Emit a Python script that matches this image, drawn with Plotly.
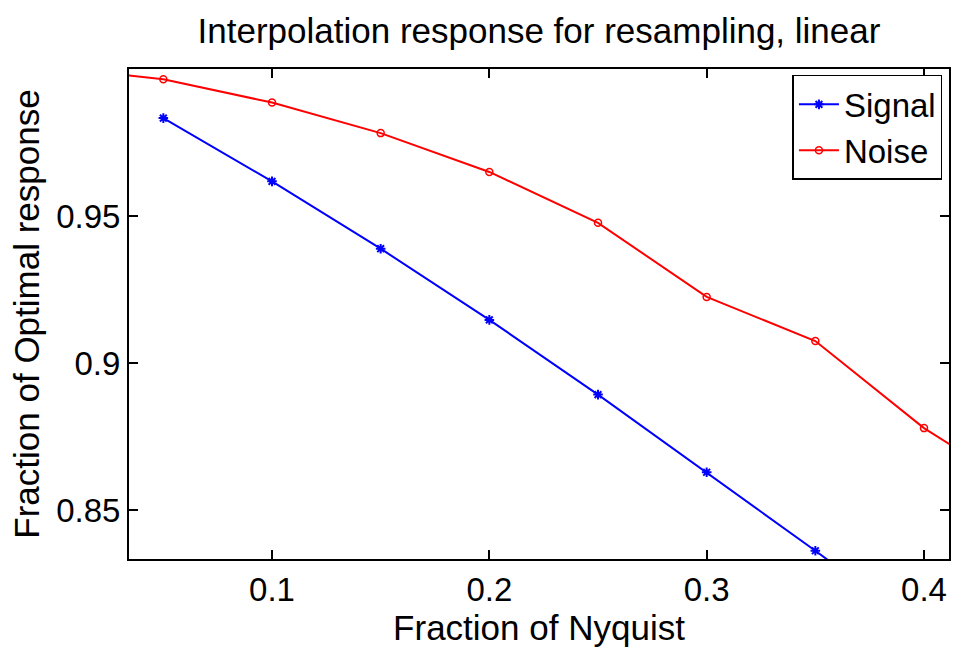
import plotly.graph_objects as go

signal_x = [0.05, 0.10, 0.15, 0.20, 0.25, 0.30, 0.35, 0.40]
signal_y = [0.9833, 0.9618, 0.9389, 0.9147, 0.8893, 0.8629, 0.8362, 0.8090]
noise_x = [0.00, 0.05, 0.10, 0.15, 0.20, 0.25, 0.30, 0.35, 0.40, 0.45]
noise_y = [1.0005, 0.9965, 0.9886, 0.9782, 0.9650, 0.9477, 0.9225, 0.9075, 0.8779, 0.8547]
x_ticks = [0.1, 0.2, 0.3, 0.4]
x_ticklabels = ["0.1", "0.2", "0.3", "0.4"]
y_ticks = [0.85, 0.90, 0.95]
y_ticklabels = ["0.85", "0.9", "0.95"]

FONT = "Liberation Sans, Arial, Helvetica, sans-serif"

fig = go.Figure()
fig.add_trace(go.Scatter(
    x=signal_x, y=signal_y, name="Signal", mode="lines+markers",
    line=dict(color="#0000ff", width=2),
    marker=dict(symbol="asterisk-open", size=8, color="#0000ff", line=dict(color="#0000ff", width=2)),
))
fig.add_trace(go.Scatter(
    x=noise_x, y=noise_y, name="Noise", mode="lines+markers",
    line=dict(color="#ff0000", width=2),
    marker=dict(symbol="circle-open", size=7, color="#ff0000", line=dict(color="#ff0000", width=1.5)),
))

axis_common = dict(
    showline=True, linecolor="black", linewidth=2, mirror="ticks",
    ticks="inside", ticklen=9, tickwidth=2, tickcolor="black",
    showgrid=False, zeroline=False, automargin=False,
    tickfont=dict(family=FONT, size=33, color="black"),
)

fig.update_layout(
    width=954, height=652,
    margin=dict(l=129, r=5, t=69, b=93),
    paper_bgcolor="white", plot_bgcolor="white",
    font=dict(family=FONT, color="black"),
    title=dict(text="Interpolation response for resampling, linear",
               x=0.5, xref="paper", xanchor="center", y=0.953, yanchor="middle",
               font=dict(family=FONT, size=35, color="black")),
    xaxis=dict(range=[0.0342, 0.4115], tickvals=x_ticks, ticktext=x_ticklabels,
               title=dict(text="Fraction of Nyquist", font=dict(family=FONT, size=35), standoff=4),
               **axis_common),
    yaxis=dict(range=[0.8334, 1.0], tickvals=y_ticks, ticktext=y_ticklabels,
               title=dict(text="Fraction of Optimal response", font=dict(family=FONT, size=35), standoff=6),
               **axis_common),
    legend=dict(x=0.992, y=0.988, xanchor="right", yanchor="top",
                bgcolor="white", bordercolor="black", borderwidth=1.5,
                font=dict(family=FONT, size=33, color="black"),
                itemwidth=40, tracegroupgap=0),
    showlegend=True,
)

fig.write_html("out.html", config={"displayModeBar": False},
               post_script="document.body.style.margin='0';")
